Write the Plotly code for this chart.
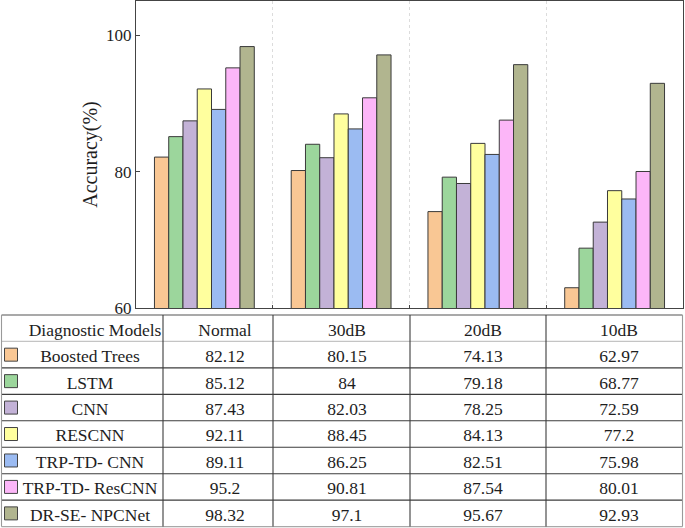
import plotly.graph_objects as go

# ---------------- data ----------------
conditions = ["Normal", "30dB", "20dB", "10dB"]
models = ["Boosted Trees", "LSTM", "CNN", "RESCNN",
          "TRP-TD- CNN", "TRP-TD- ResCNN", "DR-SE- NPCNet"]
boosted_trees = [82.12, 80.15, 74.13, 62.97]
lstm = [85.12, 84, 79.18, 68.77]
cnn = [87.43, 82.03, 78.25, 72.59]
rescnn = [92.11, 88.45, 84.13, 77.2]
trp_td_cnn = [89.11, 86.25, 82.51, 75.98]
trp_td_rescnn = [95.2, 90.81, 87.54, 80.01]
dr_se_npcnet = [98.32, 97.1, 95.67, 92.93]
y_ticks = [60, 80, 100]
header_label = "Diagnostic Models"
y_title = "Accuracy(%)"

series = [boosted_trees, lstm, cnn, rescnn, trp_td_cnn, trp_td_rescnn, dr_se_npcnet]

# ---------------- style ----------------
colors = ["#F9C794", "#9CD69C", "#C3B2D7", "#FFFF9E", "#9BBBF2", "#FCB6F8", "#B1B58F"]
FONT = "Liberation Serif"
TXT = "#1e1e1e"
W, H = 685, 528

fig = go.Figure()

for name, vals, col in zip(models, series, colors):
    fig.add_trace(go.Bar(
        x=conditions, y=vals, name=name,
        marker=dict(color=col, line=dict(color="#3a3a3a", width=1)),
        xaxis="x", yaxis="y", hoverinfo="x+y+name",
    ))

# ---------------- table (pixel-coordinate overlay axes) ----------------
col_edges = [1.5, 163, 273, 410, 546, 682.5]
value_x = [225, 347, 483, 619]
label_x = 90
header_x = 95
swatch_x = 11
table_top = 315
row_h = 26.45
text_dy = 3
n_rows = len(models) + 1
row_edges = [table_top + i * row_h for i in range(n_rows + 1)]
row_mid = [(row_edges[i] + row_edges[i + 1]) / 2 for i in range(n_rows)]
text_y = [m + text_dy for m in row_mid]

def fmt(v):
    return f"{v:g}"

cell_font = dict(family=FONT, size=17.5, color=TXT)

# header row
fig.add_trace(go.Scatter(
    x=[header_x] + value_x, y=[text_y[0]] * (1 + len(conditions)),
    text=[header_label] + conditions, mode="text",
    textfont=cell_font,
    xaxis="x2", yaxis="y2", cliponaxis=False, hoverinfo="skip",
))
# body rows
for i, (name, vals) in enumerate(zip(models, series)):
    fig.add_trace(go.Scatter(
        x=[label_x] + value_x, y=[text_y[i + 1]] * (1 + len(vals)),
        text=[name] + [fmt(v) for v in vals], mode="text",
        textfont=cell_font,
        xaxis="x2", yaxis="y2", cliponaxis=False, hoverinfo="skip",
    ))
# legend swatches
fig.add_trace(go.Scatter(
    x=[swatch_x] * len(models), y=row_mid[1:], mode="markers",
    marker=dict(symbol="square", size=13, color=colors,
                line=dict(color="#444444", width=1)),
    xaxis="x2", yaxis="y2", cliponaxis=False, hoverinfo="skip",
))

shapes = []
# horizontal lines
for i, y in enumerate(row_edges):
    if i == 0:
        c, w = "#8c8c8c", 1.3
    elif i == 1:
        c, w = "#c4c4c4", 1.3
    elif i == len(row_edges) - 1:
        c, w = "#a8a8a8", 1.3
    else:
        c, w = "#3c3c3c", 1.1
    shapes.append(dict(type="line", xref="x2", yref="y2",
                       x0=col_edges[0], x1=col_edges[-1], y0=y, y1=y,
                       line=dict(color=c, width=w), layer="above"))
# vertical lines
for j, x in enumerate(col_edges):
    if j == 0 or j == len(col_edges) - 1:
        c = "#9a9a9a"
    else:
        c = "#3c3c3c"
    shapes.append(dict(type="line", xref="x2", yref="y2",
                       x0=x, x1=x, y0=row_edges[0], y1=row_edges[-1],
                       line=dict(color=c, width=1.1), layer="above"))

plot_left, plot_right, plot_top, plot_bottom = 136, 683, 1, 308

fig.update_layout(
    width=W, height=H,
    margin=dict(l=0, r=0, t=0, b=0, pad=0, autoexpand=False),
    paper_bgcolor="white", plot_bgcolor="rgba(0,0,0,0)",
    showlegend=False,
    barmode="group", bargap=0.27, bargroupgap=0,
    font=dict(family=FONT, color=TXT),
    shapes=shapes,
    xaxis=dict(
        domain=[plot_left / W, plot_right / W], anchor="y",
        type="category", tickson="boundaries", automargin=False,
        showgrid=True, griddash="dot", gridcolor="#dcdcdc", gridwidth=1,
        ticks="inside", ticklen=3, tickcolor="#444444",
        showticklabels=False,
        showline=True, mirror=True, linecolor="#444444", linewidth=1.3,
        fixedrange=True,
    ),
    yaxis=dict(
        domain=[1 - plot_bottom / H, 1 - plot_top / H], anchor="x",
        range=[60, 105], tickvals=y_ticks, automargin=False,
        ticks="inside", ticklen=4, tickcolor="#444444",
        tickfont=dict(family=FONT, size=17, color=TXT),
        showgrid=False, zeroline=False,
        showline=True, mirror=True, linecolor="#444444", linewidth=1.3,
        title=dict(text=y_title, font=dict(family=FONT, size=20, color=TXT), standoff=2),
        fixedrange=True,
    ),
    xaxis2=dict(domain=[0, 1], anchor="y2", range=[0, W], visible=False,
                fixedrange=True, automargin=False),
    yaxis2=dict(domain=[0, 1], anchor="x2", range=[H, 0], visible=False,
                fixedrange=True, automargin=False),
)

# remove the browser's default page margin so the figure fills the window
fig.write_html("out.html", config={"displayModeBar": False},
               post_script="document.body.style.margin='0';")
